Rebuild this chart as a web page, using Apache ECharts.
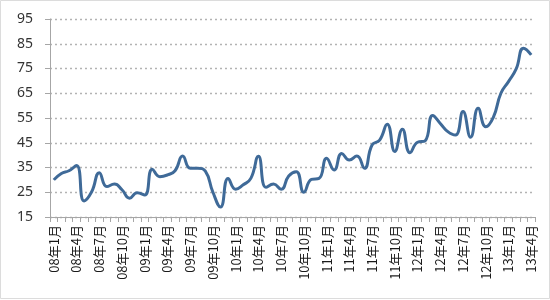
<!DOCTYPE html>
<html>
<head>
<meta charset="utf-8">
<script src="https://cdn.jsdelivr.net/npm/echarts@6/dist/echarts.min.js"></script>
<style>
html,body{margin:0;padding:0;background:#fff;}
#c{width:550px;height:300px;}
</style>
</head>
<body>
<div id="c"></div>
<script>
var years = ['08','09','10','11','12','13'];
var categories = [];
(function(){
  for (var y = 0; y < years.length; y++) {
    for (var m = 1; m <= 12; m++) {
      if (years[y] === '13' && m > 4) break;
      categories.push(years[y] + '年' + m + '月');
    }
  }
})();
var values = [
  30, 32.6, 33.7, 35.8, 21.5, 25.2, 32.9, 27.3, 28.3, 26, 22.6, 24.8,
  23.9, 34.3, 31.3, 32, 33.7, 39.6, 34.7, 34.7, 33.5, 25, 19, 30.6,
  26.2, 28, 30.6, 39.5, 27, 28.3, 26.2, 31.6, 33.3, 25, 30.2, 30.6,
  38.7, 34, 40.7, 38, 39.6, 34.7, 44.1, 46.1, 52.5, 41.5, 50.5, 41,
  45.2, 45.8, 56, 52.8, 49.5, 48.1, 57.6, 47.2, 58.9, 51.5, 55.3, 65,
  69.7, 74.7, 83.2, 80.5
];
var yMin = 15, yMax = 95, yStep = 10;

var chart = echarts.init(document.getElementById('c'), null, {renderer: 'canvas'});
chart.setOption({
  animation: false,
  backgroundColor: '#fff',
  graphic: [{
    type: 'rect',
    shape: {x: 0.5, y: 0.5, width: 549, height: 298},
    style: {fill: 'none', stroke: '#dcdcdc', lineWidth: 1},
    silent: true
  }],
  grid: {left: 50, right: 15, top: 19, bottom: 83},
  xAxis: {
    type: 'category',
    data: categories,
    boundaryGap: true,
    axisLine: {lineStyle: {color: '#a6a6a6', width: 1}},
    axisTick: {show: true, interval: 0, length: 5, lineStyle: {color: '#a6a6a6'}},
    axisLabel: {
      interval: 2,
      rotate: 90,
      margin: 8,
      fontSize: 13,
      color: '#1a1a1a',
      fontFamily: '"Noto Sans CJK SC", sans-serif'
    },
    splitLine: {show: false}
  },
  yAxis: {
    type: 'value',
    min: yMin, max: yMax, interval: yStep,
    axisLine: {show: true, lineStyle: {color: '#a6a6a6', width: 1}},
    axisTick: {show: true, length: 5, lineStyle: {color: '#a6a6a6'}},
    axisLabel: {
      margin: 17,
      fontSize: 14,
      color: '#333',
      fontFamily: '"Noto Sans", sans-serif'
    },
    splitLine: {show: true, lineStyle: {color: '#b3b3b3', width: 1.3, type: [2, 3]}}
  },
  series: [{
    type: 'line',
    data: values,
    smooth: 0.5,
    symbol: 'none',
    lineStyle: {color: '#3F6A98', width: 3}
  }]
});
</script>
</body>
</html>
